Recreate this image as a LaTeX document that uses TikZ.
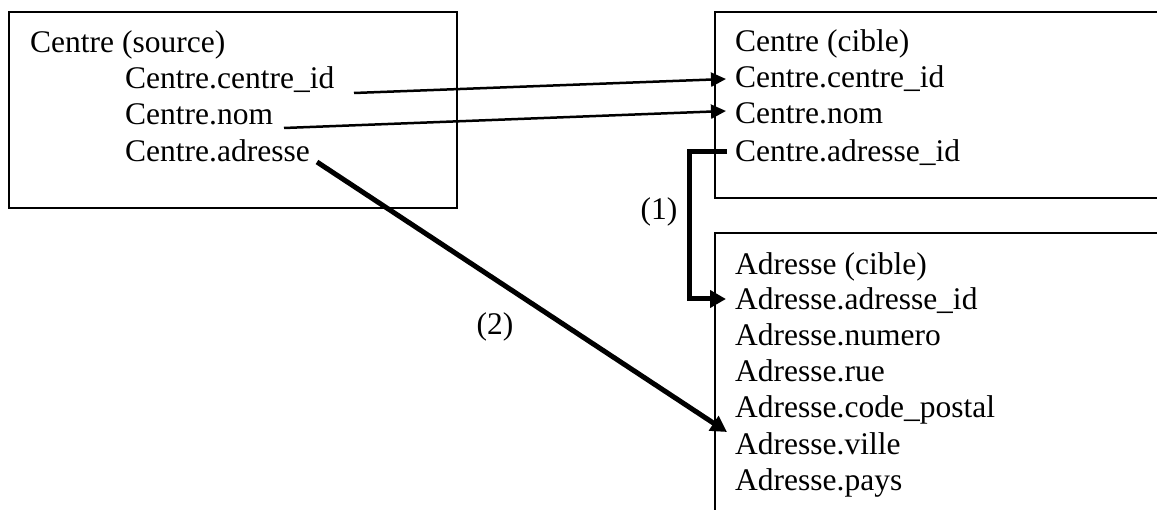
\documentclass[tikz,border=0pt]{standalone}
\usepackage{fontspec}
\setmainfont{Liberation Serif}
\usetikzlibrary{arrows.meta}
\begin{document}
\begin{tikzpicture}[x=1pt,y=-1pt,
  field/.style={anchor=base west,inner sep=0pt,font=\fontsize{31.5}{36}\selectfont},
  frame/.style={line width=1.8pt},
  thin/.style={line width=2.5pt,-{Triangle[length=15pt,width=14pt]}},
  thick/.style={line width=5pt,-{Triangle[length=16pt,width=17pt]}},
  tag/.style={inner sep=0pt,font=\fontsize{31.5}{36}\selectfont}]
\useasboundingbox (0,0) rectangle (1157,510);
\clip (0,0) rectangle (1157,510);

% source table
\draw[frame] (9,12) rectangle (457,208);
\node[field] (srcT)   at (30,53)  {Centre (source)};
\node[field] (srcId)  at (125,89) {Centre.centre\_id};
\node[field] (srcNom) at (125,125) {Centre.nom};
\node[field] (srcAdr) at (125,162) {Centre.adresse};

% target table Centre (open on the right)
\draw[frame] (1170,12) -- (715,12) -- (715,198) -- (1170,198);
\node[field] (cT)   at (735,52)  {Centre (cible)};
\node[field] (cId)  at (735,88)  {Centre.centre\_id};
\node[field] (cNom) at (735,124) {Centre.nom};
\node[field] (cAdr) at (735,162) {Centre.adresse\_id};

% target table Adresse (open on the right and bottom)
\draw[frame] (1170,233) -- (715,233) -- (715,520);
\node[field] (aT)    at (735,275) {Adresse (cible)};
\node[field] (aId)   at (735,310) {Adresse.adresse\_id};
\node[field] (aNum)  at (735,346) {Adresse.numero};
\node[field] (aRue)  at (735,382) {Adresse.rue};
\node[field] (aCp)   at (735,418) {Adresse.code\_postal};
\node[field] (aVil)  at (735,454) {Adresse.ville};
\node[field] (aPays) at (735,490) {Adresse.pays};

% connector end points
\coordinate (pId)    at (354,93);
\coordinate (qId)    at (726,79);
\coordinate (pNom)   at (284,128);
\coordinate (qNom)   at (726,111);
\coordinate (pAdr)   at (317,162);
\coordinate (qVil)   at (727,432);
\coordinate (pFk)    at (727,152);
\coordinate (kneeA)  at (689,152);
\coordinate (kneeB)  at (689,299);
\coordinate (qFk)    at (726,299);

\draw[thin] (pId) -- (qId);
\draw[thin] (pNom) -- (qNom);
\draw[thick] (pFk) -- (kneeA) -- (kneeB) -- (qFk);
\draw[thick] (pAdr) -- (qVil);

\node[tag] (l1) at (659,212) {(1)};
\node[tag] (l2) at (495,327) {(2)};
\end{tikzpicture}
\end{document}
